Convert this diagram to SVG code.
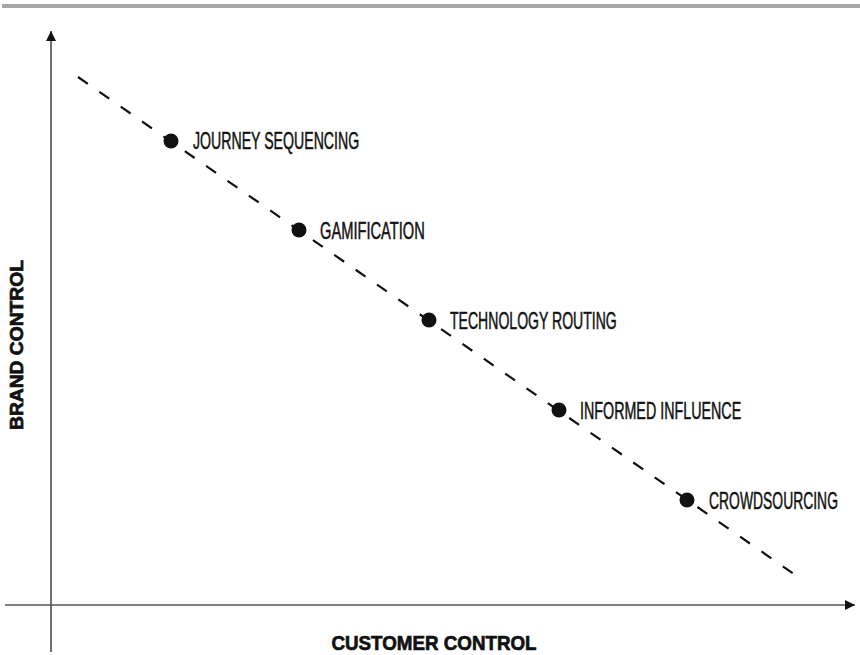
<svg xmlns="http://www.w3.org/2000/svg" width="860" height="655" viewBox="0 0 860 655">
<defs>
<marker id="ah" viewBox="0 0 10 10" refX="10" refY="5" markerWidth="10" markerHeight="10" markerUnits="userSpaceOnUse" orient="auto">
<path d="M0,0 L10,5 L0,10 Z" fill="#111"/>
</marker>
</defs>
<style>
.lbl{font-family:"Liberation Sans",Arial,sans-serif;font-size:23px;fill:#111;stroke:#111;stroke-width:0.5}
.ax{font-family:"Liberation Sans",Arial,sans-serif;font-weight:bold;fill:#111;stroke:#111;stroke-width:0.7}
.dot{fill:#111}
</style>
<rect x="2" y="4" width="858" height="4" fill="#a7a7a9"/>
<g id="connectors">
<line x1="51" y1="652" x2="51" y2="31" stroke="#222" stroke-width="1.3" marker-end="url(#ah)"/>
<line x1="5" y1="605" x2="855" y2="605" stroke="#555" stroke-width="1.3" marker-end="url(#ah)"/>
<line x1="78" y1="77" x2="804" y2="581" stroke="#111" stroke-width="2.2" stroke-dasharray="12,14"/>
</g>
<g id="axis-y"><text class="ax" font-size="18" transform="translate(23,345) rotate(-90)" text-anchor="middle" textLength="170" lengthAdjust="spacingAndGlyphs">BRAND CONTROL</text></g>
<g id="axis-x"><text class="ax" font-size="21" x="434" y="650" text-anchor="middle" textLength="205" lengthAdjust="spacingAndGlyphs">CUSTOMER CONTROL</text></g>
<g id="n1"><circle class="dot" cx="171" cy="141" r="7.5"/><text class="lbl" transform="translate(193,148.5) scale(0.62,1)" textLength="268" lengthAdjust="spacingAndGlyphs">JOURNEY SEQUENCING</text></g>
<g id="n2"><circle class="dot" cx="299" cy="230" r="7.5"/><text class="lbl" transform="translate(320,238.5) scale(0.62,1)" textLength="169" lengthAdjust="spacingAndGlyphs">GAMIFICATION</text></g>
<g id="n3"><circle class="dot" cx="429" cy="320" r="7.5"/><text class="lbl" transform="translate(450,328.5) scale(0.62,1)" textLength="269" lengthAdjust="spacingAndGlyphs">TECHNOLOGY ROUTING</text></g>
<g id="n4"><circle class="dot" cx="559" cy="410" r="7.5"/><text class="lbl" transform="translate(580,418.5) scale(0.62,1)" textLength="260" lengthAdjust="spacingAndGlyphs">INFORMED INFLUENCE</text></g>
<g id="n5"><circle class="dot" cx="687" cy="500" r="7.5"/><text class="lbl" transform="translate(709,508.5) scale(0.62,1)" textLength="208" lengthAdjust="spacingAndGlyphs">CROWDSOURCING</text></g>
</svg>
